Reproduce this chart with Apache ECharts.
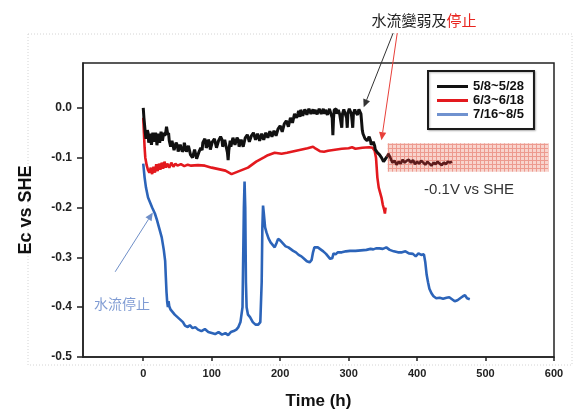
<!DOCTYPE html>
<html>
<head>
<meta charset="utf-8">
<script src="https://cdn.jsdelivr.net/npm/echarts@6/dist/echarts.min.js"></script>
<style>
  html, body { margin: 0; padding: 0; background: #fff; }
  #chart { width: 574px; height: 412px; }
</style>
</head>
<body>
<div id="chart"></div>
<script>
// Corrosion potential Ec (V vs SHE) over time (h) for three test periods.
const seriesNames = ['5/8~5/28', '6/3~6/18', '7/16~8/5'];

// [time (h), Ec (V)]
const run1 = [
  [0,0.00],[1,-0.02],[3,-0.05],[4,-0.062],[5,-0.058],[6,-0.045],[7,-0.05],[8,-0.07],[9,-0.068],
  [10,-0.052],[11,-0.055],[12,-0.074],[13,-0.07],[14,-0.05],[15,-0.052],[16,-0.068],[17,-0.065],
  [18,-0.05],[19,-0.058],[20,-0.075],[21,-0.072],[22,-0.052],[23,-0.055],[24,-0.07],[25,-0.066],
  [26,-0.048],[27,-0.05],[28,-0.066],[29,-0.063],[30,-0.05],[31,-0.056],[32,-0.06],[33,-0.048],
  [34,-0.038],[35,-0.041],[36,-0.055],[37,-0.05],[38,-0.066],[39,-0.062],[40,-0.078],[41,-0.075],
  [42,-0.066],[44,-0.07],[45,-0.085],[47,-0.082],[48,-0.07],[50,-0.076],[51,-0.088],[53,-0.085],
  [54,-0.074],[56,-0.078],[57,-0.088],[59,-0.083],[60,-0.07],[62,-0.074],[63,-0.088],[65,-0.085],
  [66,-0.076],[68,-0.08],[69,-0.094],[71,-0.09],[72,-0.1],[74,-0.096],[75,-0.084],[77,-0.088],
  [78,-0.102],[80,-0.1],[81,-0.09],[83,-0.094],[84,-0.08],[86,-0.085],[87,-0.07],[88,-0.07],
  [90,-0.062],[91,-0.068],[92,-0.08],[94,-0.075],[95,-0.064],[97,-0.07],[98,-0.084],[100,-0.08],
  [101,-0.068],[103,-0.072],[104,-0.062],[106,-0.066],[107,-0.08],[109,-0.078],[110,-0.066],
  [112,-0.07],[113,-0.058],[115,-0.064],[116,-0.078],[118,-0.076],[119,-0.064],[121,-0.068],
  [123,-0.09],[124,-0.105],[125,-0.085],[127,-0.066],[128,-0.078],[130,-0.074],[131,-0.06],
  [133,-0.062],[134,-0.074],[136,-0.07],[137,-0.06],[139,-0.065],[140,-0.078],[142,-0.075],
  [143,-0.064],[145,-0.068],[146,-0.078],[148,-0.074],[149,-0.06],[151,-0.064],[152,-0.054],
  [154,-0.058],[155,-0.068],[157,-0.066],[158,-0.056],[160,-0.06],[161,-0.05],[163,-0.052],
  [164,-0.064],[166,-0.062],[167,-0.052],[169,-0.056],[170,-0.066],[172,-0.063],[173,-0.052],
  [175,-0.055],[176,-0.064],[178,-0.06],[179,-0.05],[181,-0.052],[182,-0.06],[184,-0.058],
  [185,-0.047],[187,-0.05],[188,-0.058],[190,-0.055],[191,-0.046],[193,-0.05],[194,-0.056],
  [196,-0.052],[197,-0.042],[199,-0.046],[200,-0.036],[202,-0.04],[203,-0.048],[205,-0.044],
  [206,-0.032],[208,-0.035],[209,-0.026],[211,-0.03],[212,-0.038],[214,-0.034],[215,-0.02],
  [217,-0.022],[218,-0.03],[220,-0.026],[221,-0.012],[223,-0.015],[224,-0.02],[226,-0.011],
  [227,-0.006],[229,-0.018],[230,-0.004],[232,-0.008],[233,-0.016],[235,-0.012],[236,-0.003],
  [238,-0.006],[239,-0.014],[241,-0.01],[242,-0.002],[244,-0.004],[245,-0.012],[247,-0.008],
  [248,-0.003],[250,-0.012],[251,-0.004],[253,-0.005],[254,-0.013],[256,-0.01],[257,-0.002],
  [259,-0.003],[260,-0.012],[262,-0.008],[263,-0.002],[265,-0.012],[266,-0.004],[268,-0.006],
  [269,-0.014],[271,-0.01],[272,-0.002],[274,-0.005],[276,-0.02],[277,-0.055],[278,-0.02],
  [279,-0.004],[280,-0.008],[282,-0.002],[283,-0.012],[285,-0.004],[286,-0.005],[287,-0.013],
  [289,-0.015],[290,-0.04],[291,-0.012],[293,-0.003],[294,-0.008],[296,-0.012],[297,-0.02],
  [298,-0.04],[299,-0.01],[301,-0.002],[302,-0.006],[304,-0.012],[305,-0.025],[306,-0.04],
  [307,-0.012],[309,-0.003],[310,-0.008],[312,-0.004],[313,-0.014],[315,-0.003],[316,-0.005],
  [318,-0.012],[320,-0.045],[321,-0.052],[323,-0.055],[324,-0.062],[326,-0.058],[327,-0.066],
  [329,-0.063],[330,-0.058],[332,-0.066],[333,-0.074],[335,-0.072],[336,-0.068],[338,-0.076],
  [339,-0.084],[341,-0.08],[342,-0.09],[344,-0.086],[345,-0.094],[347,-0.092],[348,-0.1],
  [350,-0.098],[351,-0.108],[353,-0.105],[356,-0.098],[358,-0.092],[361,-0.1],[364,-0.11],
  [367,-0.106],[370,-0.114],[373,-0.108],[376,-0.112],[379,-0.104],[382,-0.11],[385,-0.106],
  [388,-0.104],[391,-0.11],[394,-0.105],[397,-0.113],[400,-0.108],[403,-0.112],[406,-0.106],
  [409,-0.11],[412,-0.114],[415,-0.108],[418,-0.112],[421,-0.116],[424,-0.11],[427,-0.113],
  [430,-0.108],[433,-0.112],[436,-0.115],[439,-0.11],[442,-0.113],[445,-0.108],[448,-0.11],
  [451,-0.108]
];

const run2 = [
  [0,-0.02],[1,-0.05],[2,-0.08],[3,-0.1],[5,-0.115],[7,-0.125],[9,-0.13],[11,-0.12],[13,-0.133],
  [15,-0.118],[17,-0.13],[19,-0.113],[21,-0.127],[23,-0.112],[25,-0.124],[27,-0.11],[29,-0.122],
  [31,-0.108],[33,-0.12],[35,-0.112],[38,-0.12],[41,-0.11],[44,-0.118],[47,-0.112],[50,-0.116],
  [55,-0.113],[60,-0.117],[65,-0.114],[70,-0.116],[80,-0.115],[90,-0.116],[100,-0.12],
  [110,-0.123],[120,-0.126],[129,-0.133],[140,-0.127],[153,-0.12],[165,-0.108],[177,-0.099],
  [182,-0.095],[192,-0.09],[202,-0.092],[210,-0.09],[220,-0.087],[230,-0.084],[240,-0.081],
  [248,-0.078],[252,-0.082],[258,-0.087],[264,-0.088],[270,-0.086],[280,-0.084],[290,-0.082],
  [300,-0.081],[305,-0.079],[310,-0.082],[320,-0.08],[330,-0.079],[335,-0.08],[338,-0.086],
  [340,-0.1],[342,-0.14],[344,-0.16],[346,-0.17],[348,-0.18],[350,-0.195],[352,-0.205],
  [353,-0.212],[354,-0.2]
];

const run3 = [
  [0,-0.112],[2,-0.14],[4,-0.16],[7,-0.18],[10,-0.19],[13,-0.2],[17,-0.212],[20,-0.225],
  [23,-0.24],[27,-0.26],[30,-0.285],[32,-0.307],[33,-0.34],[34,-0.37],[35,-0.39],[36,-0.4],
  [37,-0.388],[38,-0.398],[40,-0.405],[43,-0.41],[46,-0.415],[50,-0.42],[54,-0.425],[58,-0.43],
  [61,-0.437],[65,-0.44],[68,-0.436],[72,-0.442],[76,-0.44],[80,-0.445],[85,-0.448],[90,-0.444],
  [95,-0.45],[100,-0.452],[105,-0.454],[110,-0.45],[115,-0.455],[120,-0.452],[124,-0.456],
  [128,-0.45],[132,-0.448],[136,-0.445],[139,-0.44],[142,-0.43],[145,-0.4],[147,-0.2],
  [148,-0.148],[149,-0.2],[150,-0.35],[151,-0.4],[153,-0.415],[156,-0.42],[160,-0.43],
  [164,-0.435],[168,-0.435],[171,-0.43],[173,-0.35],[174,-0.24],[175,-0.196],[176,-0.21],
  [178,-0.24],[180,-0.25],[183,-0.262],[186,-0.27],[189,-0.275],[192,-0.28],[195,-0.27],
  [197,-0.263],[200,-0.266],[204,-0.272],[208,-0.278],[212,-0.28],[216,-0.284],[219,-0.287],
  [223,-0.29],[227,-0.295],[231,-0.298],[235,-0.303],[239,-0.308],[243,-0.31],[246,-0.305],
  [248,-0.29],[250,-0.28],[252,-0.278],[255,-0.28],[259,-0.284],[263,-0.288],[267,-0.293],
  [270,-0.298],[273,-0.303],[276,-0.302],[278,-0.292],[281,-0.294],[284,-0.29],[290,-0.29],
  [296,-0.288],[302,-0.287],[310,-0.287],[318,-0.286],[326,-0.285],[332,-0.283],[336,-0.284],
  [340,-0.282],[345,-0.282],[350,-0.283],[355,-0.28],[360,-0.285],[366,-0.288],[372,-0.29],
  [378,-0.29],[383,-0.288],[388,-0.292],[394,-0.293],[398,-0.298],[402,-0.292],[406,-0.295],
  [410,-0.294],[412,-0.31],[414,-0.335],[416,-0.35],[418,-0.363],[421,-0.372],[424,-0.378],
  [428,-0.382],[433,-0.381],[438,-0.383],[443,-0.381],[447,-0.38],[451,-0.384],[455,-0.388],
  [459,-0.386],[463,-0.382],[467,-0.378],[470,-0.376],[473,-0.382],[477,-0.384]
];

const xTicks = [0, 100, 200, 300, 400, 500, 600];
const yTicks = [-0.5, -0.4, -0.3, -0.2, -0.1, 0.0];

// Reference band around -0.1 V: [time start, Ec top], [time end, Ec bottom]
const bandCorners = [[357, -0.071], [592, -0.128]];
const bandLabel = '-0.1V vs SHE';

// Annotation arrows in data units: [tail time, tail Ec, head time, head Ec]
const arrowWeak = [365, 0.150, 322, 0.001];
const arrowStop = [371, 0.150, 348, -0.065];
const arrowBlue = [-41, -0.329, 14, -0.21];

// The first run is split where it enters the band; the later part reads dark red
const bandStart = bandCorners[0][0] - 1;
const run1Before = run1.filter(p => p[0] <= bandStart);
const run1Inside = run1.filter(p => p[0] >= bandStart);

// Hatched pink fill for the band
const pat = document.createElement('canvas');
pat.width = 4; pat.height = 4;
const pctx = pat.getContext('2d');
pctx.fillStyle = '#f8d0c8';
pctx.fillRect(0, 0, 4, 4);
pctx.fillStyle = '#ec8f83';
pctx.fillRect(0, 0, 4, 1);
pctx.fillRect(0, 0, 1, 4);

const latin = '"Liberation Sans", Arial, sans-serif';
const cjk = '"Noto Sans CJK TC", "Noto Sans CJK SC", sans-serif';

const chart = echarts.init(document.getElementById('chart'), null, { renderer: 'canvas' });

chart.setOption({
  animation: false,
  backgroundColor: '#fff',
  grid: {
    left: 83, top: 63, right: 20, bottom: 55,
    outerBoundsMode: 'none', containLabel: false,
    show: true, borderColor: '#222', borderWidth: 1.5
  },
  legend: {
    orient: 'vertical',
    left: 428, top: 71,
    padding: [9, 10, 8, 9],
    itemWidth: 31, itemHeight: 3, itemGap: 1,
    icon: 'rect',
    borderColor: '#1a1a1a', borderWidth: 2,
    backgroundColor: '#fff',
    shadowColor: 'rgba(0,0,0,0.25)', shadowBlur: 2, shadowOffsetX: 1, shadowOffsetY: 1,
    textStyle: { fontFamily: latin, fontWeight: 'bold', fontSize: 13, color: '#111', lineHeight: 13 },
    data: [
      { name: seriesNames[0], itemStyle: { color: '#111' } },
      { name: seriesNames[1], itemStyle: { color: '#e3191e' } },
      { name: seriesNames[2], itemStyle: { color: '#7092cf' } }
    ]
  },
  xAxis: {
    type: 'value', min: -88, max: 600,
    name: 'Time (h)', nameLocation: 'middle', nameGap: 36,
    nameTextStyle: { fontFamily: latin, fontWeight: 'bold', fontSize: 17, color: '#111' },
    axisLine: { show: true, onZero: false, lineStyle: { color: '#222', width: 1.5 } },
    axisTick: { show: true, customValues: xTicks, length: 4, lineStyle: { color: '#222', width: 1.5 } },
    axisLabel: {
      customValues: xTicks, margin: 11,
      fontFamily: latin, fontWeight: 'bold', fontSize: 11, color: '#222'
    },
    splitLine: { show: false }
  },
  yAxis: {
    type: 'value', min: -0.5, max: 0.09,
    name: 'Ec vs SHE', nameLocation: 'middle', nameGap: 48,
    nameTextStyle: { fontFamily: latin, fontWeight: 'bold', fontSize: 18, color: '#111' },
    axisLine: { show: true, onZero: false, lineStyle: { color: '#222', width: 1.5 } },
    axisTick: { show: true, customValues: yTicks, length: 6, lineStyle: { color: '#222', width: 1.5 } },
    axisLabel: {
      customValues: yTicks, margin: 11,
      fontFamily: latin, fontWeight: 'bold', fontSize: 12, color: '#222',
      formatter: v => v.toFixed(1)
    },
    splitLine: { show: false }
  },
  series: [
    {
      name: seriesNames[0], type: 'line', data: run1Before, showSymbol: false, z: 4,
      lineStyle: { width: 3, color: '#111' }, itemStyle: { color: '#111' },
      markArea: {
        silent: true,
        itemStyle: { color: { image: pat, repeat: 'repeat' }, opacity: 0.9 },
        data: [[
          { xAxis: bandCorners[0][0], yAxis: bandCorners[0][1] },
          { xAxis: bandCorners[1][0], yAxis: bandCorners[1][1] }
        ]]
      }
    },
    {
      name: seriesNames[0], type: 'line', data: run1Inside, showSymbol: false, z: 4,
      lineStyle: { width: 2.6, color: '#5e1c1c' }, itemStyle: { color: '#5e1c1c' }
    },
    {
      name: seriesNames[1], type: 'line', data: run2, showSymbol: false, z: 3,
      lineStyle: { width: 2.6, color: '#e3191e' }, itemStyle: { color: '#e3191e' }
    },
    {
      name: seriesNames[2], type: 'line', data: run3, showSymbol: false, z: 3,
      lineStyle: { width: 2.6, color: '#2c64b9' }, itemStyle: { color: '#2c64b9' }
    }
  ]
});

// Annotations placed in data units through the axes
function px(t, v) { return chart.convertToPixel({ gridIndex: 0 }, [t, v]); }

function arrow(spec, color, width, head) {
  const a = px(spec[0], spec[1]);
  const b = px(spec[2], spec[3]);
  const ang = Math.atan2(b[1] - a[1], b[0] - a[0]);
  const half = head * 0.45;
  const base = [b[0] - head * Math.cos(ang), b[1] - head * Math.sin(ang)];
  const p1 = [base[0] + half * Math.sin(ang), base[1] - half * Math.cos(ang)];
  const p2 = [base[0] - half * Math.sin(ang), base[1] + half * Math.cos(ang)];
  return [
    { type: 'line', z: 20, shape: { x1: a[0], y1: a[1], x2: base[0], y2: base[1] },
      style: { stroke: color, lineWidth: width } },
    { type: 'polygon', z: 20, shape: { points: [b, p1, p2] }, style: { fill: color } }
  ];
}

const titlePos = px(410, 0.176);
const bandTextPos = px(476, -0.164);
const blueTextPos = px(-31, -0.393);

chart.setOption({
  graphic: [
    // light dotted frame around the figure
    { type: 'rect', z: -1, silent: true,
      shape: { x: 28, y: 34, width: 544, height: 331 },
      style: { fill: null, stroke: '#d4d4d4', lineWidth: 1, lineDash: [1, 2] } },
    ...arrow(arrowWeak, '#333', 1, 8),
    ...arrow(arrowStop, '#e8403a', 1, 8),
    ...arrow(arrowBlue, '#6f8fc8', 1, 8),
    { type: 'text', z: 20, x: titlePos[0], y: titlePos[1],
      style: {
        text: '{k|水流變弱及}{r|停止}', align: 'center', verticalAlign: 'middle',
        rich: {
          k: { fontFamily: cjk, fontSize: 15, fill: '#222' },
          r: { fontFamily: cjk, fontSize: 15, fill: '#e8251f' }
        }
      } },
    { type: 'text', z: 20, x: bandTextPos[0], y: bandTextPos[1],
      style: { text: bandLabel, align: 'center', verticalAlign: 'middle',
        fontFamily: latin, fontSize: 15, fill: '#333' } },
    { type: 'text', z: 20, x: blueTextPos[0], y: blueTextPos[1],
      style: { text: '水流停止', align: 'center', verticalAlign: 'middle',
        fontFamily: cjk, fontSize: 14, fill: '#7f9bd3' } }
  ]
});
</script>
</body>
</html>
